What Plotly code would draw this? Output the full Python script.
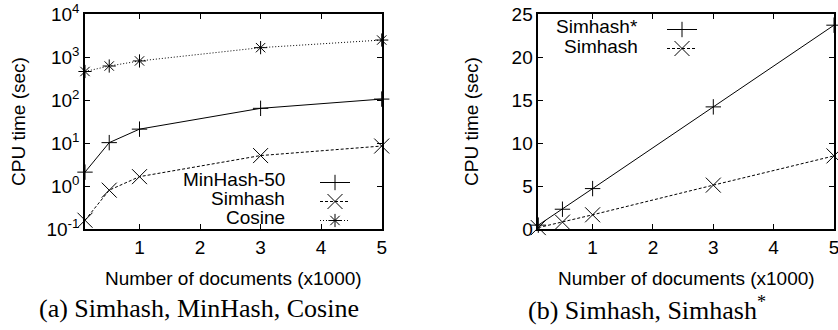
import plotly.graph_objects as go

docs = [0.1, 0.5, 1, 3, 5]
minhash50 = [2.1, 10.2, 21, 64, 105]
simhash = [0.16, 0.8, 1.65, 5.1, 8.5]
cosine = [460, 617, 810, 1650, 2480]
simhash_star = [0.45, 2.3, 4.7, 14.2, 23.7]

names_a = ["MinHash-50", "Simhash", "Cosine"]
names_b = ["Simhash*", "Simhash"]

log_tickvals = [0.1, 1, 10, 100, 1000, 10000]
log_ticktext = ["10<sup>-1</sup>", "10<sup>0</sup>", "10<sup>1</sup>", "10<sup>2</sup>", "10<sup>3</sup>", "10<sup>4</sup>"]
lin_tickvals = [0, 5, 10, 15, 20, 25]
x_tickvals = [1, 2, 3, 4, 5]

W, H = 838, 330
FONT = "Liberation Sans"
FS = 19

fig = go.Figure()

def add(x, y, symbol, size, dash, xa, ya, legend):
    fig.add_trace(go.Scatter(
        x=x, y=y, name="", mode="lines+markers",
        line=dict(color="black", width=1, dash=dash),
        marker=dict(symbol=symbol, size=size, color="black", line=dict(color="black", width=1)),
        xaxis=xa, yaxis=ya, legend=legend, cliponaxis=False,
    ))

add(docs, minhash50, "cross-thin-open", 11, "solid", "x", "y", "legend")
add(docs, simhash, "x-thin-open", 15, "3px,2px", "x", "y", "legend")
add(docs, cosine, "asterisk-open", 11, "1px,2px", "x", "y", "legend")
add(docs, simhash_star, "cross-thin-open", 11, "solid", "x2", "y2", "legend2")
add(docs, simhash, "x-thin-open", 15, "3px,2px", "x2", "y2", "legend2")

ydom = [1 - 229 / H, 1 - 14 / H]
axis_common = dict(showline=True, linecolor="black", linewidth=1.5, mirror="ticks",
                   ticks="inside", ticklen=5, tickcolor="black", showgrid=False,
                   zeroline=False, automargin=False, ticklabeloverflow="allow",
                   tickfont=dict(family=FONT, size=FS, color="black"))

fig.update_layout(
    width=W, height=H,
    margin=dict(l=0, r=0, t=0, b=0),
    paper_bgcolor="white", plot_bgcolor="white",
    font=dict(family=FONT, size=FS, color="black"),
    xaxis=dict(domain=[85 / W, 381.7 / W], range=[0.1, 5], tickvals=x_tickvals, anchor="y",
               **axis_common),
    yaxis=dict(domain=ydom, type="log", range=[-1, 4], tickvals=log_tickvals, ticktext=log_ticktext,
               anchor="x", title=dict(text="CPU time (sec)", standoff=16,
                                      font=dict(family=FONT, size=FS)), **axis_common),
    xaxis2=dict(domain=[538.3 / W, 834 / W], range=[0.1, 5], tickvals=x_tickvals, anchor="y2",
                **axis_common),
    yaxis2=dict(domain=ydom, range=[0, 25], tickvals=lin_tickvals, anchor="x2",
                title=dict(text="CPU time (sec)", standoff=28,
                           font=dict(family=FONT, size=FS)), **axis_common),
    legend=dict(x=315 / W, xanchor="left", y=1 - 168 / H, yanchor="top",
                bgcolor="rgba(0,0,0,0)", font=dict(family=FONT, size=12),
                itemwidth=30, tracegroupgap=0),
    legend2=dict(x=662 / W, xanchor="left", y=1 - 15 / H, yanchor="top",
                 bgcolor="rgba(0,0,0,0)", font=dict(family=FONT, size=12),
                 itemwidth=30, tracegroupgap=0),
    showlegend=True,
)

xtitle = "Number of documents (x1000)"
for cx in [233 / W, 686 / W]:
    fig.add_annotation(text=xtitle, x=cx, y=1 - 278 / H, xref="paper", yref="paper",
                       showarrow=False, xanchor="center", yanchor="middle",
                       font=dict(family=FONT, size=FS, color="black"))

for i, nm in enumerate(names_a):
    fig.add_annotation(text=nm, x=287 / W, y=1 - (179 + 19 * i) / H, xref="paper", yref="paper",
                       showarrow=False, xanchor="right", yanchor="middle",
                       font=dict(family=FONT, size=FS, color="black"))
for i, nm in enumerate(names_b):
    fig.add_annotation(text=nm, x=640 / W, y=1 - (27 + 19 * i) / H, xref="paper", yref="paper",
                       showarrow=False, xanchor="right", yanchor="middle",
                       font=dict(family=FONT, size=FS, color="black"))

cap_font = dict(family="Liberation Serif", size=26, color="black")
fig.add_annotation(text="(a) Simhash, MinHash, Cosine", x=199 / W, y=1 - 308 / H,
                   xref="paper", yref="paper", showarrow=False, font=cap_font,
                   xanchor="center", yanchor="middle")
fig.add_annotation(text="(b) Simhash, Simhash<sup>*</sup>", x=647 / W, y=1 - 308 / H,
                   xref="paper", yref="paper", showarrow=False, font=cap_font,
                   xanchor="center", yanchor="middle")

fig.write_html("out.html", config={"displayModeBar": False},
               post_script="document.body.style.margin='0';")
